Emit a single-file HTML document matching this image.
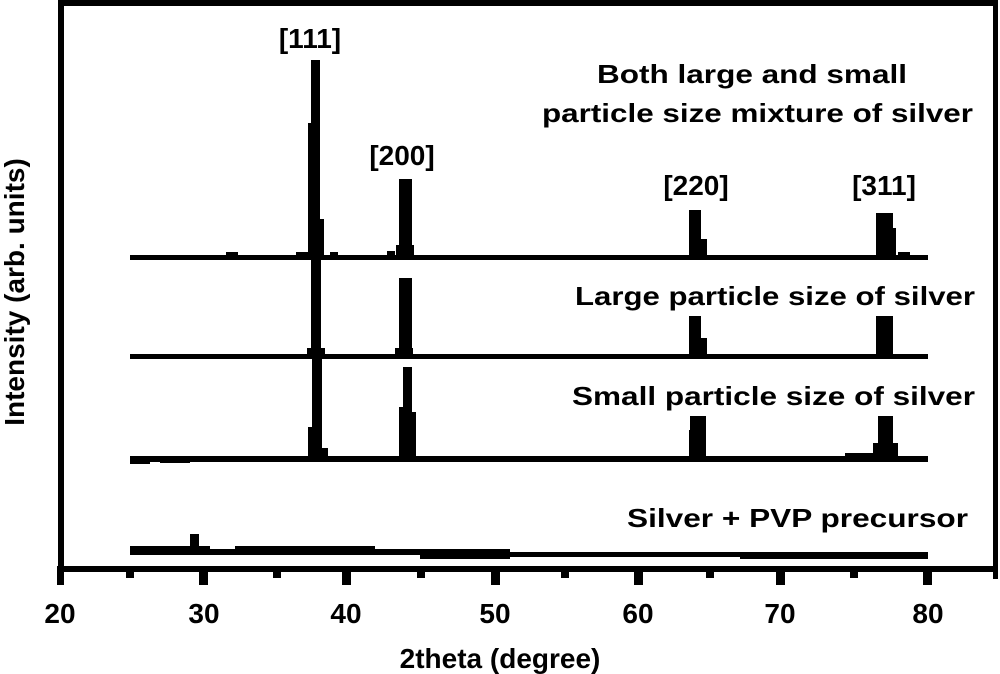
<!DOCTYPE html>
<html><head><meta charset="utf-8"><style>
html,body{margin:0;padding:0;background:#fff;}
svg{display:block;}
text{font-family:"Liberation Sans",Arial,sans-serif;font-weight:bold;fill:#000;}
</style></head><body>
<svg width="1000" height="674" viewBox="0 0 1000 674">
<rect x="58" y="0" width="6" height="572" fill="#000"/>
<rect x="58" y="0" width="940" height="6" fill="#000"/>
<rect x="993" y="0" width="5" height="579" fill="#000"/>
<rect x="58" y="566" width="940" height="6" fill="#000"/>
<g fill="#000">
<rect x="57" y="566" width="7" height="19"/>
<rect x="199" y="566" width="9" height="19"/>
<rect x="342" y="566" width="9" height="19"/>
<rect x="491" y="566" width="9" height="19"/>
<rect x="634" y="566" width="9" height="19"/>
<rect x="776" y="566" width="9" height="19"/>
<rect x="923" y="566" width="9" height="19"/>
<rect x="126" y="566" width="8" height="12"/>
<rect x="273" y="566" width="8" height="12"/>
<rect x="417" y="566" width="8" height="12"/>
<rect x="561" y="566" width="8" height="12"/>
<rect x="706" y="566" width="8" height="12"/>
<rect x="850" y="566" width="8" height="12"/>
</g>
<g font-size="28" text-anchor="middle">
<text x="60" y="623">20</text>
<text x="204" y="623">30</text>
<text x="346" y="623">40</text>
<text x="495" y="623">50</text>
<text x="638" y="623">60</text>
<text x="780" y="623">70</text>
<text x="928" y="623">80</text>
</g>
<text x="500" y="668" font-size="28" text-anchor="middle">2theta (degree)</text>
<text transform="translate(24,292) rotate(-90)" font-size="28" text-anchor="middle">Intensity (arb. units)</text>
<g fill="#000">
<rect x="130" y="255" width="798" height="5"/>
<rect x="226" y="252" width="12" height="4"/>
<rect x="296" y="252" width="14" height="4"/>
<rect x="330" y="252" width="8" height="4"/>
<rect x="387" y="251" width="8" height="5"/>
<rect x="308" y="123" width="4" height="134"/>
<rect x="311" y="60" width="9" height="197"/>
<rect x="320" y="219" width="4" height="38"/>
<rect x="399" y="179" width="13" height="78"/>
<rect x="396" y="245" width="18" height="12"/>
<rect x="689" y="210" width="12" height="47"/>
<rect x="701" y="239" width="6" height="18"/>
<rect x="876" y="213" width="17" height="44"/>
<rect x="893" y="228" width="3" height="29"/>
<rect x="898" y="252" width="12" height="4"/>
<rect x="130" y="354" width="798" height="5"/>
<rect x="311" y="258" width="10" height="100"/>
<rect x="307" y="348" width="18" height="8"/>
<rect x="399" y="278" width="13" height="78"/>
<rect x="395" y="348" width="18" height="8"/>
<rect x="689" y="316" width="12" height="40"/>
<rect x="701" y="338" width="6" height="18"/>
<rect x="876" y="316" width="17" height="40"/>
<rect x="130" y="456" width="798" height="6"/>
<rect x="312" y="357" width="10" height="102"/>
<rect x="308" y="427" width="4" height="32"/>
<rect x="322" y="448" width="6" height="10"/>
<rect x="403" y="367" width="9" height="92"/>
<rect x="399" y="407" width="4" height="52"/>
<rect x="412" y="412" width="4" height="46"/>
<rect x="690" y="416" width="16" height="42"/>
<rect x="689" y="430" width="4" height="28"/>
<rect x="878" y="416" width="15" height="42"/>
<rect x="873" y="443" width="25" height="15"/>
<rect x="845" y="453" width="30" height="4"/>
<rect x="130" y="460" width="20" height="4"/>
<rect x="160" y="460" width="30" height="3"/>
<rect x="130" y="549" width="380" height="6"/>
<rect x="510" y="552" width="418" height="5"/>
<rect x="190" y="534" width="9" height="18"/>
<rect x="130" y="546" width="80" height="4"/>
<rect x="235" y="546" width="140" height="4"/>
<rect x="420" y="554" width="90" height="5"/>
<rect x="740" y="554" width="188" height="5"/>
</g>
<g font-size="28" text-anchor="middle">
<text x="310" y="48">[111]</text>
<text x="402" y="165">[200]</text>
<text x="696" y="195">[220]</text>
<text x="884" y="195">[311]</text>
</g>
<g font-size="26" text-anchor="end">
<text x="907" y="83" textLength="310" lengthAdjust="spacingAndGlyphs">Both large and small</text>
<text x="973" y="122" textLength="431" lengthAdjust="spacingAndGlyphs">particle size mixture of silver</text>
<text x="975" y="305" textLength="400" lengthAdjust="spacingAndGlyphs">Large particle size of silver</text>
<text x="975" y="405" textLength="403" lengthAdjust="spacingAndGlyphs">Small particle size of silver</text>
<text x="968" y="527" textLength="341" lengthAdjust="spacingAndGlyphs">Silver + PVP precursor</text>
</g>
</svg>
</body></html>
